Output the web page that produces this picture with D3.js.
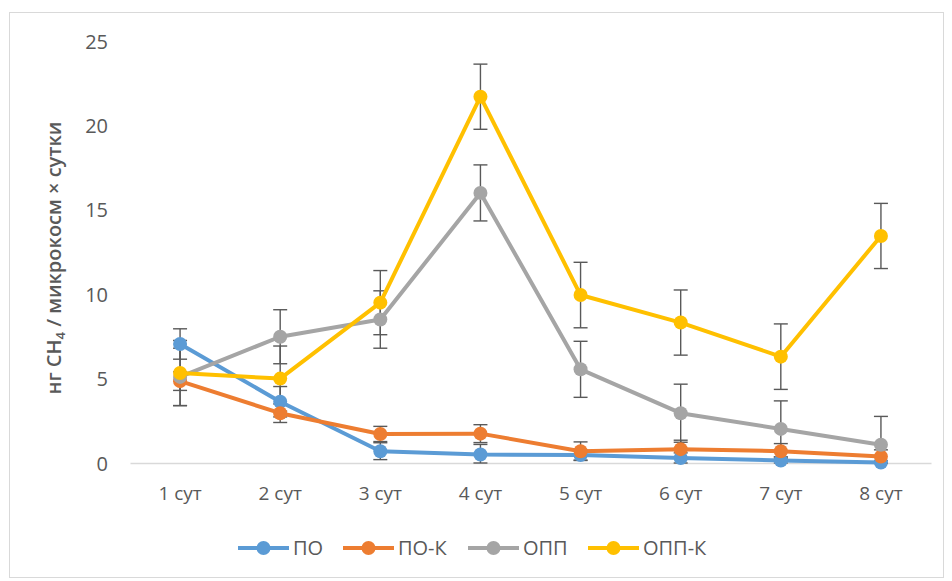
<!DOCTYPE html>
<html><head><meta charset="utf-8">
<script src="https://cdn.jsdelivr.net/npm/d3@7"></script>
<style>body{margin:0;background:#fff;}svg{display:block;font-family:"Open Sans","Noto Sans",sans-serif;}</style>
</head><body><svg id="c" width="952" height="581"></svg>
<script>
const categories = ["1 сут","2 сут","3 сут","4 сут","5 сут","6 сут","7 сут","8 сут"];
const seriesNames = ["ПО","ПО-К","ОПП","ОПП-К"];
const colors = ["#5B9BD5","#ED7D31","#A5A5A5","#FFC000"];
const valsPO   = [7.05, 3.63, 0.7, 0.5, 0.47, 0.3, 0.15, 0.03];
const valsPOK  = [4.85, 2.95, 1.72, 1.74, 0.7, 0.82, 0.7, 0.38];
const valsOPP  = [5.1, 7.48, 8.5, 16.0, 5.55, 2.95, 2.02, 1.08];
const valsOPPK = [5.33, 5.0, 9.5, 21.7, 9.95, 8.32, 6.3, 13.45];
const errPO    = [0.9, 0.9, 0.5, 0.6, 0.3, 0.3, 0.2, 0.1];
const errPOK   = [0.55, 0.55, 0.45, 0.53, 0.55, 0.53, 0.45, 0.4];
const errOPP   = [1.7, 1.6, 1.7, 1.66, 1.66, 1.72, 1.66, 1.68];
const errOPPK  = [1.93, 1.93, 1.9, 1.93, 1.94, 1.93, 1.94, 1.93];
const yTicks = [0,5,10,15,20,25];

const values = [valsPO, valsPOK, valsOPP, valsOPPK];
const errors = [errPO, errPOK, errOPP, errOPPK];
const FONT = "'Open Sans','Noto Sans',sans-serif";

const svg = d3.select("#c");
svg.append("rect").attr("x",9.5).attr("y",12.5).attr("width",934).attr("height",565)
  .attr("fill","#fff").attr("stroke","#d9d9d9").attr("stroke-width",1);

const x = d3.scaleBand().domain(categories).range([130,931]);
const y = d3.scaleLinear().domain([0,25]).range([463,41]);
const cx = c => x(c) + x.bandwidth()/2;

// y tick labels
const ya = svg.append("g").attr("transform","translate(108,0)")
  .call(d3.axisLeft(y).tickValues(yTicks).tickSize(0).tickPadding(0));
ya.select(".domain").remove();
ya.selectAll("text").attr("fill","#595959").attr("font-size",20).attr("dy","0.35em")
  .attr("font-family",FONT);

// x axis
const xa = svg.append("g").attr("transform","translate(0,463)")
  .call(d3.axisBottom(x).tickSize(0).tickPadding(24));
xa.select(".domain").attr("stroke","#d9d9d9").attr("stroke-width",1.3);
xa.selectAll("text").attr("fill","#595959").attr("font-size",19)
  .attr("font-family",FONT);

// y axis title
const t = svg.append("text").attr("transform","translate(61,258) rotate(-90)")
  .attr("text-anchor","middle").attr("fill","#595959").attr("font-size",20).attr("font-weight",600);
t.append("tspan").text("нг CH");
t.append("tspan").attr("font-size",13).attr("dy",4).text("4");
t.append("tspan").attr("dy",-4).text(" / микрокосм × сутки");

// error bars
const eg = svg.append("g").attr("stroke","#595959").attr("stroke-width",1.4);
values.forEach((vals,si)=>{
  vals.forEach((v,i)=>{
    const e = errors[si][i], xc = cx(categories[i]);
    const y1 = y(v+e), y2 = y(Math.max(0,v-e));
    eg.append("line").attr("x1",xc).attr("x2",xc).attr("y1",y1).attr("y2",y2);
    eg.append("line").attr("x1",xc-7).attr("x2",xc+7).attr("y1",y1).attr("y2",y1);
    eg.append("line").attr("x1",xc-7).attr("x2",xc+7).attr("y1",y2).attr("y2",y2);
  });
});

// lines + markers
const line = d3.line().x((d,i)=>cx(categories[i])).y(d=>y(d));
values.forEach((vals,si)=>{
  svg.append("path").datum(vals).attr("d",line).attr("fill","none")
    .attr("stroke",colors[si]).attr("stroke-width",4).attr("stroke-linejoin","round");
  svg.append("g").selectAll("circle").data(vals).join("circle")
    .attr("cx",(d,i)=>cx(categories[i])).attr("cy",d=>y(d)).attr("r",7)
    .attr("fill",colors[si]);
});

// legend
const legX = [238, 343, 468, 588];
const lg = svg.append("g");
seriesNames.forEach((n,i)=>{
  const g = lg.append("g").attr("transform",`translate(${legX[i]},548)`);
  g.append("line").attr("x1",0).attr("x2",51).attr("stroke",colors[i]).attr("stroke-width",4);
  g.append("circle").attr("cx",25.5).attr("r",7).attr("fill",colors[i]);
  g.append("text").attr("x",55).attr("dy","0.36em").attr("fill","#595959").attr("font-size",20)
    .attr("font-family",FONT).text(n);
});
</script></body></html>
